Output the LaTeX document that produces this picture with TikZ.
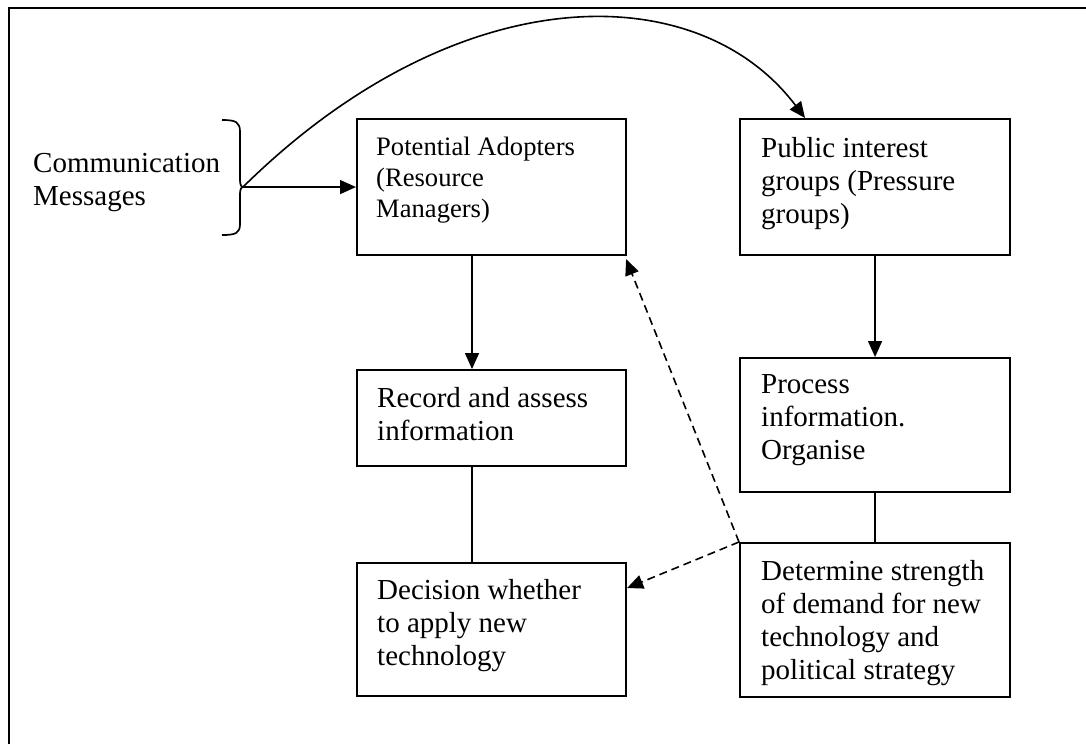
\documentclass[tikz,border=0pt]{standalone}
\usepackage{fontspec}
\setmainfont{Liberation Serif}
\usetikzlibrary{arrows.meta,calc}
\tikzset{
  box/.style={draw, line width=2.1pt, inner sep=0pt, anchor=north west},
  txt/.style={inner sep=0pt, anchor=base west, font=\fontsize{29}{33}\selectfont},
  smalltxt/.style={txt, font=\fontsize{26.6}{31}\selectfont},
  conn/.style={line width=1.6pt},
  arr/.style={conn, -{Triangle[length=16pt,width=14pt]}},
  dasharr/.style={arr, dash pattern=on 8pt off 5pt}
}
\newcommand{\ml}[1]{\begin{tabular}[t]{@{}l@{}}#1\end{tabular}}
\begin{document}
\begin{tikzpicture}[x=1pt,y=-1pt]
\useasboundingbox (0,0) rectangle (1086,744);
% frame
\draw[line width=2.4pt] (9,744) -- (9,8) -- (1086,8);

% boxes
\node[box, minimum width=269pt, minimum height=136pt] (pa) at (356,118) {};
\node[box, minimum width=270pt, minimum height=136pt] (pig) at (739,118) {};
\node[box, minimum width=269pt, minimum height=96pt] (ra) at (356,369) {};
\node[box, minimum width=270pt, minimum height=134pt] (pi) at (739,357) {};
\node[box, minimum width=269pt, minimum height=133pt] (dw) at (356,562) {};
\node[box, minimum width=270pt, minimum height=154pt] (ds) at (739,542) {};

% texts
\node[smalltxt] (tpa) at ($(pa.north west)+(20,37)$) {\ml{Potential Adopters\\(Resource\\Managers)}};
\node[txt] (tpig) at ($(pig.north west)+(22,39)$) {\ml{Public interest\\groups (Pressure\\groups)}};
\node[txt] (tra) at ($(ra.north west)+(21,38)$) {\ml{Record and assess\\information}};
\node[txt] (tpi) at ($(pi.north west)+(22,36)$) {\ml{Process\\information.\\Organise}};
\node[txt] (tdw) at ($(dw.north west)+(21,37)$) {\ml{Decision whether\\to apply new\\technology}};
\node[txt] (tds) at ($(ds.north west)+(22,38)$) {\ml{Determine strength\\of demand for new\\technology and\\political strategy}};
\node[txt] (cm) at (33,172) {\ml{Communication\\Messages}};

% brace
\coordinate (tip) at (243,187);
\draw[line width=1.7pt] (222,120) .. controls (236,120) and (240,122) .. (240,132) -- (240,180)
  .. controls (240,184) and (241,187) .. (tip)
  .. controls (241,187) and (240,190) .. (240,194) -- (240,224)
  .. controls (240,233) and (236,235) .. (222,235);

% connectors
\draw[arr] (tip) -- (pa.west);
\draw[arr] (tip) .. controls (458,-25) and (698,-24) .. ([xshift=66pt]pig.north west);
\draw[arr] ([xshift=116pt]pa.south west) -- ([xshift=116pt]ra.north west);
\draw[conn] ([xshift=116pt]ra.south west) -- ([xshift=116pt]dw.north west);
\draw[arr] (pig.south) -- (pi.north);
\draw[conn] (pi.south) -- (ds.north);
\draw[dasharr] (ds.north west) -- ([xshift=-1pt,yshift=-3pt]pa.south east);
\draw[dasharr] (ds.north west) -- ([yshift=-26pt]dw.north east);
\end{tikzpicture}
\end{document}
